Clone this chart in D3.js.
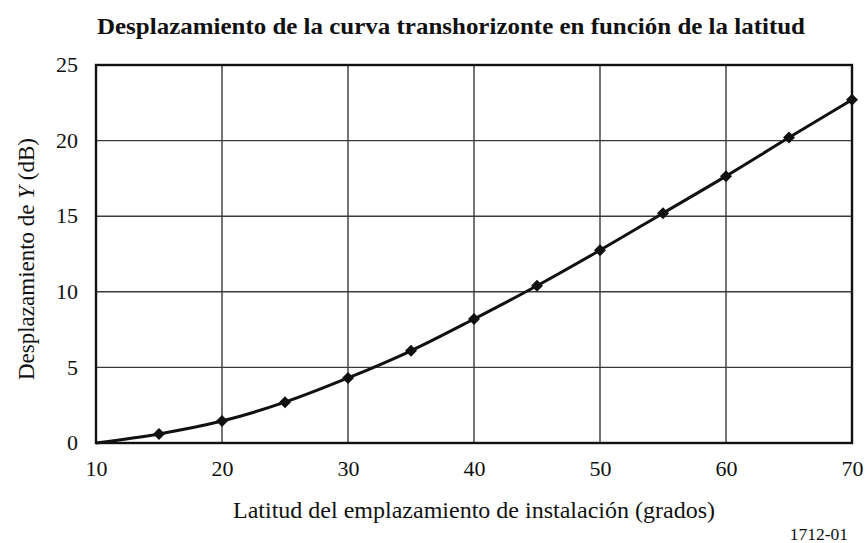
<!DOCTYPE html>
<html>
<head>
<meta charset="utf-8">
<script src="https://cdn.jsdelivr.net/npm/d3@7"></script>
<style>
  body { margin: 0; background: #fff; }
  svg { display: block; }
  svg text { font-family: "Liberation Serif", "DejaVu Serif", serif; fill: #111; }
</style>
</head>
<body>
<svg id="chart" width="865" height="543"></svg>
<script>
const latitudes = [10, 15, 20, 25, 30, 35, 40, 45, 50, 55, 60, 65, 70]
const shifts = [0, 0.6, 1.45, 2.7, 4.3, 6.1, 8.2, 10.4, 12.75, 15.2, 17.65, 20.2, 22.7]
const xTicks = [10, 20, 30, 40, 50, 60, 70]
const yTicks = [0, 5, 10, 15, 20, 25]

const data = latitudes.map((x, i) => ({ x, y: shifts[i] }))

const svg = d3.select("#chart")
const margin = { top: 65, right: 13, bottom: 100, left: 96 }
const width = 865, height = 543

const xScale = d3.scaleLinear().domain([10, 70]).range([margin.left, width - margin.right])
const yScale = d3.scaleLinear().domain([0, 25]).range([height - margin.bottom, margin.top])

// grid
svg.append("g")
  .attr("stroke", "#3a3a3a")
  .attr("stroke-width", 1.4)
  .call(g => g.selectAll(".v").data(xTicks.slice(1, -1)).join("line")
    .attr("x1", d => xScale(d)).attr("x2", d => xScale(d))
    .attr("y1", yScale(0)).attr("y2", yScale(25)))
  .call(g => g.selectAll(".h").data(yTicks.slice(1, -1)).join("line")
    .attr("y1", d => yScale(d)).attr("y2", d => yScale(d))
    .attr("x1", xScale(10)).attr("x2", xScale(70)))

// frame
svg.append("rect")
  .attr("x", xScale(10)).attr("y", yScale(25))
  .attr("width", xScale(70) - xScale(10))
  .attr("height", yScale(0) - yScale(25))
  .attr("fill", "none").attr("stroke", "#111").attr("stroke-width", 2.4)

// axes (labels only)
svg.append("g")
  .attr("transform", `translate(0,${yScale(0)})`)
  .attr("font-family", null)
  .call(d3.axisBottom(xScale).tickValues(xTicks).tickSize(0).tickPadding(0))
  .call(g => g.attr("font-family", null))
  .call(g => g.select(".domain").remove())
  .call(g => g.selectAll("text").attr("dy", null).attr("y", 33).style("font-size", "22px"))

svg.append("g")
  .attr("transform", `translate(${xScale(10)},0)`)
  .call(d3.axisLeft(yScale).tickValues(yTicks).tickSize(0).tickPadding(18))
  .call(g => g.attr("font-family", null))
  .call(g => g.select(".domain").remove())
  .call(g => g.selectAll("text").attr("dy", "0.3em").style("font-size", "22px"))

// curve
svg.append("path")
  .datum(data)
  .attr("fill", "none")
  .attr("stroke", "#111")
  .attr("stroke-width", 3)
  .attr("d", d3.line().x(d => xScale(d.x)).y(d => yScale(d.y)).curve(d3.curveMonotoneX))

// markers
svg.append("g")
  .attr("fill", "#111")
  .selectAll("path")
  .data(data.slice(1))
  .join("path")
  .attr("transform", d => `translate(${xScale(d.x)},${yScale(d.y)}) rotate(45)`)
  .attr("d", d3.symbol(d3.symbolSquare, 72))

// title
svg.append("text")
  .attr("x", 451).attr("y", 34)
  .attr("text-anchor", "middle")
  .attr("textLength", 708).attr("lengthAdjust", "spacingAndGlyphs")
  .style("font-size", "23px").style("font-weight", "bold")
  .text("Desplazamiento de la curva transhorizonte en función de la latitud")

// x title
svg.append("text")
  .attr("x", 474).attr("y", 518)
  .attr("text-anchor", "middle")
  .attr("textLength", 482).attr("lengthAdjust", "spacingAndGlyphs")
  .style("font-size", "23px")
  .text("Latitud del emplazamiento de instalación (grados)")

// y title
const yt = svg.append("text")
  .attr("transform", `translate(34,${(yScale(0) + yScale(25)) / 2 + 5}) rotate(-90)`)
  .attr("text-anchor", "middle")
  .style("font-size", "23px")
yt.append("tspan").text("Desplazamiento de ")
yt.append("tspan").style("font-style", "italic").text("Y")
yt.append("tspan").text(" (dB)")

// figure number
svg.append("text")
  .attr("x", 848).attr("y", 540)
  .attr("text-anchor", "end")
  .style("font-size", "17.5px")
  .text("1712-01")
</script>
</body>
</html>
